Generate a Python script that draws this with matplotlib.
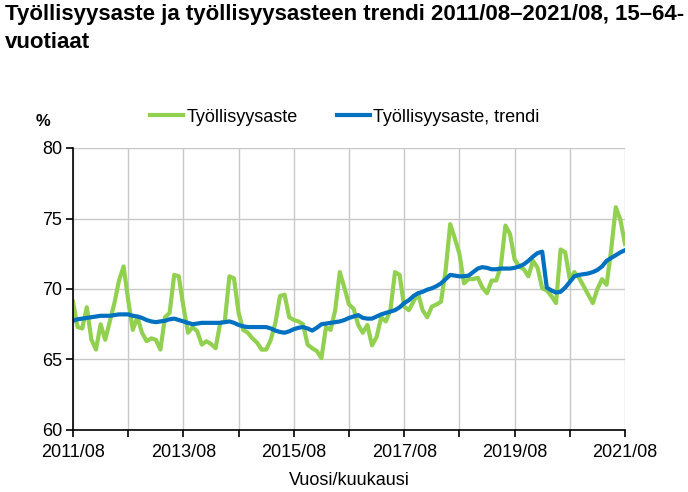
import numpy as np
import matplotlib
matplotlib.use("Agg")
import matplotlib.pyplot as plt

plt.rcParams['font.family'] = ['Liberation Sans', 'DejaVu Sans']

# monthly values 2011/08 .. 2021/08
tyollisyysaste = [
    69.1, 67.3, 67.2, 68.7, 66.4, 65.7, 67.5, 66.4, 67.7, 69.0, 70.6, 71.6,
    69.2, 67.1, 68.0, 66.9, 66.3, 66.5, 66.4, 65.7, 68.0, 68.3, 71.0, 70.9,
    68.75, 66.9, 67.3, 67.0, 66.05, 66.3, 66.1, 65.8, 67.6, 67.7, 70.9, 70.75,
    68.3, 67.1, 66.9, 66.5, 66.2, 65.7, 65.7, 66.4, 67.6, 69.5, 69.6, 68.0,
    67.8, 67.7, 67.5, 66.05, 65.8, 65.6, 65.1, 67.3, 67.1, 68.5, 71.2, 70.1,
    68.9, 68.6, 67.45, 66.9, 67.45, 66.0, 66.6, 68.0, 67.7, 68.5, 71.2, 71.0,
    68.75, 68.5, 69.1, 69.7, 68.5, 68.0, 68.75, 68.9, 69.1, 71.3, 74.6, 73.6,
    72.5, 70.4, 70.7, 70.7, 70.8, 70.1, 69.7, 70.6, 70.6, 71.6, 74.5, 73.9,
    72.1, 71.6, 71.4, 70.9, 72.0, 71.5, 70.05, 69.9, 69.5, 69.0, 72.8, 72.6,
    70.7, 71.2, 70.8, 70.2, 69.6, 69.0, 70.0, 70.7, 70.3, 72.8, 75.8, 74.9,
    73.2,
]
trendi = [
    67.75, 67.85, 67.9, 67.95, 68.0, 68.05, 68.1, 68.1, 68.1, 68.15, 68.2, 68.2,
    68.2, 68.1, 68.05, 67.95, 67.8, 67.7, 67.65, 67.7, 67.75, 67.85, 67.9, 67.8,
    67.7, 67.6, 67.5, 67.55, 67.6, 67.6, 67.6, 67.6, 67.6, 67.65, 67.7, 67.6,
    67.45, 67.35, 67.3, 67.3, 67.3, 67.3, 67.3, 67.2, 67.05, 66.95, 66.9, 67.0,
    67.15, 67.25, 67.3, 67.2, 67.05, 67.25, 67.5, 67.55, 67.6, 67.65, 67.7, 67.8,
    67.95, 68.05, 68.15, 67.95, 67.9, 67.9, 68.05, 68.2, 68.3, 68.4, 68.5, 68.7,
    69.0, 69.2, 69.5, 69.7, 69.8, 69.95, 70.05, 70.2, 70.4, 70.7, 71.0, 70.95,
    70.9, 70.9, 70.95, 71.2, 71.45, 71.55, 71.5, 71.4, 71.4, 71.45, 71.45, 71.45,
    71.5, 71.6, 71.75, 72.0, 72.3, 72.55, 72.65, 70.1, 69.9, 69.75, 69.8, 70.1,
    70.5, 70.9, 71.0, 71.05, 71.1, 71.2, 71.35, 71.6, 72.0, 72.2, 72.4, 72.6,
    72.75,
]
tick_labels = ["2011/08", "", "2013/08", "", "2015/08", "", "2017/08", "",
               "2019/08", "", "2021/08"]

x = np.arange(len(tyollisyysaste))

fig = plt.figure(figsize=(6.88, 4.92), dpi=100)
ax = fig.add_axes([73/688, 1-430/492, (625-73)/688, (430-148)/492])

ax.plot(x, tyollisyysaste, color='#92D050', lw=3, label='Työllisyysaste',
        solid_joinstyle='round')
ax.plot(x, trendi, color='#0070C0', lw=3, label='Työllisyysaste, trendi',
        solid_joinstyle='round')

ax.set_xlim(0, 120)
ax.set_ylim(60, 80)
ax.set_xticks(np.arange(0, 121, 12))
ax.set_xticklabels(tick_labels)
ax.set_yticks([60, 65, 70, 75, 80])
ax.grid(True, color='#c8c8c8', lw=1)
ax.set_axisbelow(True)
for s in ['top', 'right']:
    ax.spines[s].set_visible(False)
for s in ['left', 'bottom']:
    ax.spines[s].set_linewidth(1.2)
ax.tick_params(labelsize=13, length=5, width=1.2)
ax.tick_params(axis='x', pad=5)
ax.tick_params(axis='y', pad=3)
ax.set_xlabel('Vuosi/kuukausi', fontsize=13, labelpad=8)

fig.text(5/688, 1-4/492, 'Työllisyysaste ja työllisyysasteen trendi 2011/08–2021/08, 15–64-\nvuotiaat',
         fontsize=16, fontweight='bold', va='top', ha='left', linespacing=1.45)
fig.text(36/688, 1-122/492, '%', fontsize=12, fontweight='bold', va='center')
fig.legend(loc='center', bbox_to_anchor=(345/688, 1-117/492), ncol=2, frameon=False,
           fontsize=13, handlelength=1.8, columnspacing=2.2, handletextpad=0.2)

fig.savefig('out.png', dpi=100)
